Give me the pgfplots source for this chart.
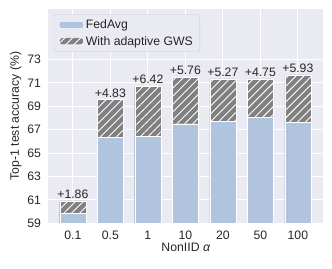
\documentclass[border=0pt]{standalone}
\usepackage{fontspec}
\setmainfont{Liberation Sans}
\usepackage{pgfplots}
\pgfplotsset{compat=1.18}
\usetikzlibrary{patterns.meta,calc}
\definecolor{bgc}{HTML}{EAEAF2}
\definecolor{fedc}{HTML}{B0C4DE}
\definecolor{gwsc}{HTML}{808080}
\definecolor{txt}{HTML}{262626}
\definecolor{legedge}{HTML}{CCCCCC}
\begin{document}
\begin{tikzpicture}
\begin{axis}[
  scale only axis, width=274.5bp, height=214.6bp,
  xmin=-0.65, xmax=6.67, ymin=59, ymax=77.34,
  axis background/.style={fill=bgc},
  axis line style={draw=none},
  major tick length=0pt,
  grid=major, major grid style={white, line width=1bp},
  xtick={0,1,2,3,4,5,6}, xticklabels={0.1,0.5,1,10,20,50,100},
  ytick={59,61,63,65,67,69,71,73},
  /pgf/number format/assume math mode=true,
  tick label style={font=\fontsize{12.3}{14}\selectfont, text=txt},
  yticklabel style={xshift=-4bp},
  xticklabel style={yshift=-4bp},
  xlabel={NonIID {\itshape α}},
  ylabel={Top-1 test accuracy (\%)},
  label style={font=\fontsize{12.3}{14}\selectfont, text=txt},
  xlabel style={yshift=3bp},
  ylabel style={yshift=-1bp},
  reverse legend,
  legend cell align=left,
  legend image code/.code={\path[#1] (0bp,-3.6bp) rectangle (24.5bp,3.6bp);},
  legend style={at={(0.0193,0.9725)}, anchor=north west, draw=legedge, fill=bgc,
    rounded corners=2.5bp, font=\fontsize{12.3}{14}\selectfont, text=txt,
    inner xsep=5bp, inner ysep=3bp, row sep=2bp,
    /tikz/every even column/.append style={column sep=7bp}},
  every node near coord/.append style={font=\fontsize{12.3}{14}\selectfont, text=txt, anchor=south, inner sep=1bp, yshift=1bp},
]
\addplot[ybar, bar width=0.7, bar shift=0pt, fill=gwsc, draw=white, line width=0.4bp,
  postaction={pattern={Lines[angle=45,distance=5.6bp,line width=0.9bp]}, pattern color=white},
  nodes near coords, point meta=explicit symbolic]
  coordinates {(0,60.92) [+1.86] (1,69.58) [+4.83] (2,70.71) [+6.42] (3,71.48) [+5.76] (4,71.34) [+5.27] (5,71.34) [+4.75] (6,71.68) [+5.93]};
\addplot[ybar, bar width=0.7, bar shift=0pt, fill=fedc, draw=white, line width=0.4bp]
  coordinates {(0,59.85) (1,66.37) (2,66.43) (3,67.51) (4,67.71) (5,68.07) (6,67.65)};
\legend{With adaptive GWS, FedAvg}
\end{axis}
\pgfresetboundingbox
\path[use as bounding box] ($(current axis.south west)+(-48.5bp,-45.7bp)$) rectangle ($(current axis.north east)+(9bp,8.7bp)$);
\end{tikzpicture}
\end{document}
